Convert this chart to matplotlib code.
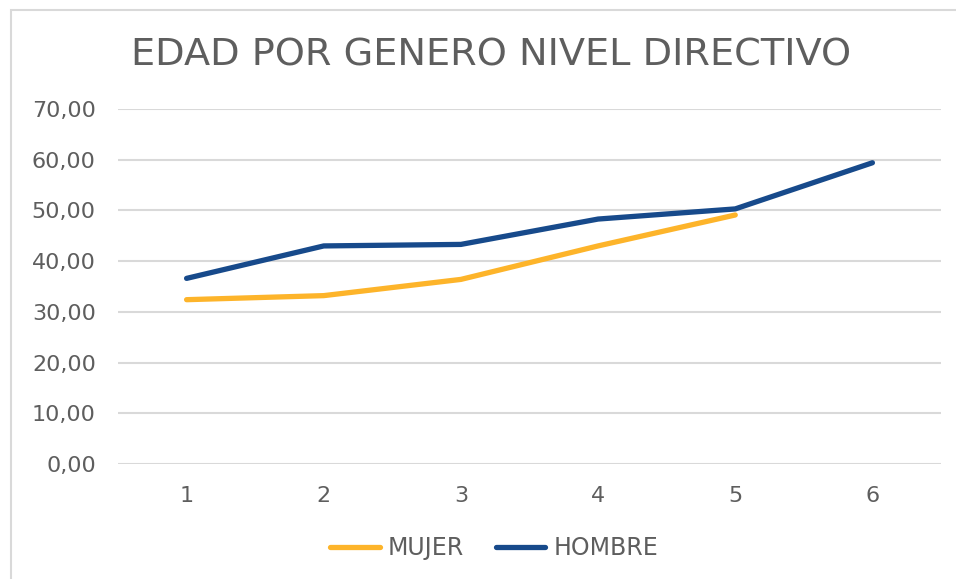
import matplotlib
matplotlib.use("Agg")
import matplotlib.pyplot as plt
from matplotlib.patches import Rectangle

categories = ["1", "2", "3", "4", "5", "6"]
mujer = [32.4, 33.2, 36.4, 43.0, 49.1]
hombre = [36.6, 43.0, 43.3, 48.3, 50.3, 59.4]
yticks = [0, 10, 20, 30, 40, 50, 60, 70]
ytick_labels = ["0,00", "10,00", "20,00", "30,00", "40,00", "50,00", "60,00", "70,00"]
title = "EDAD POR GENERO NIVEL DIRECTIVO"

TXT = "#5E5E5E"
ORANGE = "#FDB42A"
BLUE = "#174A8B"
GRID = "#D9D9D9"

plt.rcParams["font.family"] = ["DejaVu Sans"]

fig = plt.figure(figsize=(9.56, 5.79), dpi=100)
ax = fig.add_axes([118/956, 1-464/579, (941-118)/956, (464-109)/579])

x_m = list(range(len(mujer)))
x_h = list(range(len(hombre)))
ax.plot(x_m, mujer, color=ORANGE, lw=3.8, solid_capstyle="round", solid_joinstyle="round", label="MUJER", zorder=3)
ax.plot(x_h, hombre, color=BLUE, lw=3.8, solid_capstyle="round", solid_joinstyle="round", label="HOMBRE", zorder=3)

ax.set_xlim(-0.5, len(categories) - 0.5)
ax.set_ylim(0, 70)
ax.set_xticks(range(len(categories)))
ax.set_xticklabels(categories)
ax.set_yticks(yticks)
ax.set_yticklabels(ytick_labels)
ax.tick_params(axis="both", length=0, labelsize=16, colors=TXT)
ax.tick_params(axis="y", pad=16)
ax.tick_params(axis="x", pad=16)
ax.grid(axis="y", color=GRID, lw=1.5)
ax.set_axisbelow(True)
for s in ax.spines.values():
    s.set_visible(False)

fig.text(491/956, 1-55/579, title, ha="center", va="center", fontsize=27.5, color=TXT)

leg = fig.legend(loc="center", bbox_to_anchor=(494/956, 1-548/579), ncol=2, frameon=False,
                 fontsize=17, handlelength=2.1, handletextpad=0.34, columnspacing=1.35, labelcolor=TXT)

fig.patches.append(Rectangle((11/956, -0.1), 1.2, 1 - 10/579 + 0.1, transform=fig.transFigure,
                             fill=False, edgecolor=GRID, lw=1.5))

fig.savefig("out.png", dpi=100)
